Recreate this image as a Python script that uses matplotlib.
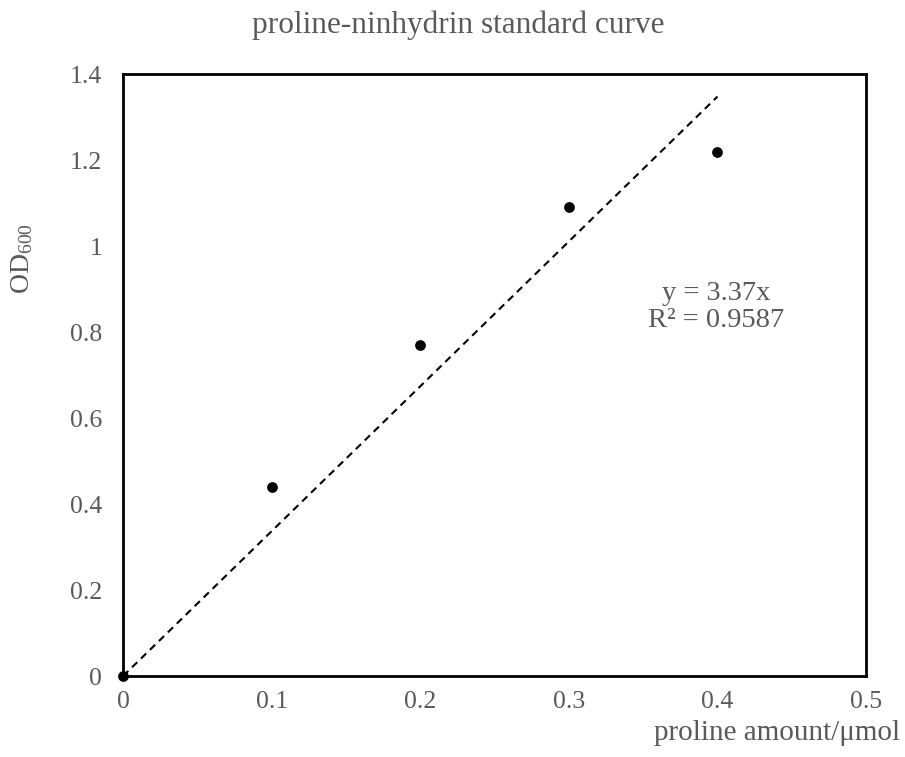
import numpy as np
import matplotlib.pyplot as plt

plt.rcParams['font.family'] = ['Liberation Serif', 'DejaVu Serif']
plt.rcParams['mathtext.fontset'] = 'custom'
plt.rcParams['mathtext.rm'] = 'Liberation Serif'
plt.rcParams['mathtext.it'] = 'Liberation Serif'
plt.rcParams['mathtext.default'] = 'rm'

# proline standards (umol) and measured absorbance
amount = [0, 0.1, 0.2, 0.3, 0.4]
od600 = [0, 0.44, 0.77, 1.09, 1.22]
slope = 3.37
r_squared = 0.9587

x_ticks = [0, 0.1, 0.2, 0.3, 0.4, 0.5]
y_ticks = [0, 0.2, 0.4, 0.6, 0.8, 1.0, 1.2, 1.4]
x_tick_labels = ['0', '0.1', '0.2', '0.3', '0.4', '0.5']
y_tick_labels = ['0', '0.2', '0.4', '0.6', '0.8', '1', '1.2', '1.4']

grey = '#595959'

fig = plt.figure(figsize=(9.05, 7.57), dpi=100)
ax = fig.add_axes([0.136, 0.107, 0.821, 0.795])

fit_x = np.array([0, max(amount)])
ax.plot(fit_x, slope * fit_x, color='black', linestyle=(0, (3.5, 2.5)), linewidth=1.5, zorder=2)
ax.scatter(amount, od600, s=45, color='black', zorder=3, clip_on=False)

ax.set_xlim(0, 0.5)
ax.set_ylim(0, 1.4)
ax.set_xticks(x_ticks)
ax.set_xticklabels(x_tick_labels)
ax.set_yticks(y_ticks)
ax.set_yticklabels(y_tick_labels)
ax.tick_params(length=0, labelsize=18.5, labelcolor=grey)
ax.tick_params(axis='x', pad=11)
ax.tick_params(axis='y', pad=15)
for sp in ax.spines.values():
    sp.set_linewidth(2)
    sp.set_color('black')

ax.text(0.399, 0.858, f'y = {slope}x\nR\u00b2 = {r_squared}', fontsize=20.5, color=grey,
        ha='center', va='center', linespacing=1.1)

fig.text(0.506, 0.957, 'proline-ninhydrin standard curve', fontsize=22.5, color=grey,
         ha='center', va='baseline')
fig.text(0.995, 0.0225, 'proline amount/\u03bcmol', fontsize=21, color=grey, ha='right', va='baseline')
fig.text(0.024, 0.659, 'OD$_{600}$', fontsize=20, color=grey, rotation=90, ha='center', va='center')

fig.savefig('out.png', dpi=100)
